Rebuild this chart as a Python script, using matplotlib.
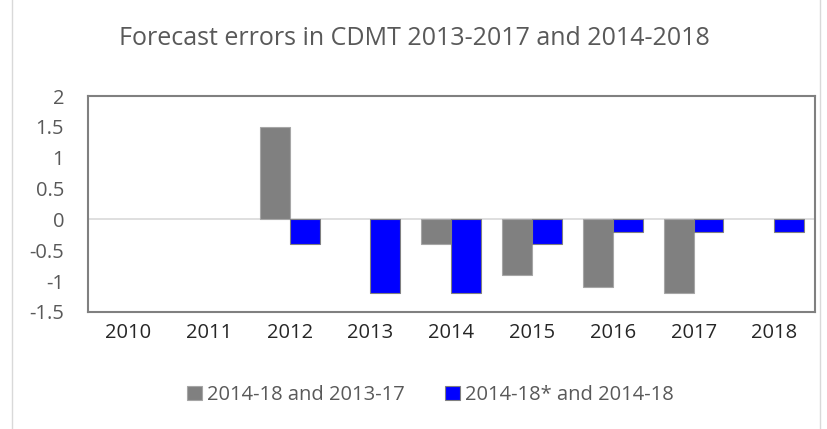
import matplotlib
matplotlib.use('Agg')
import matplotlib.pyplot as plt
import numpy as np

plt.rcParams['font.family'] = ['Open Sans', 'DejaVu Sans']

years = ['2010', '2011', '2012', '2013', '2014', '2015', '2016', '2017', '2018']
# nan = no bar for that year
grey_vals = [np.nan, np.nan, 1.5, np.nan, -0.4, -0.9, -1.1, -1.2, np.nan]
blue_vals = [np.nan, np.nan, -0.4, -1.2, -1.2, -0.4, -0.2, -0.2, -0.2]
yticks = [-1.5, -1, -0.5, 0, 0.5, 1, 1.5, 2]

txt = '#595959'
fig = plt.figure(figsize=(8.28, 4.29), dpi=100)
ax = fig.add_axes([0.106, 0.273, 0.878, 0.503])

x = np.arange(len(years))
w = 0.37
ax.bar(x - w/2, grey_vals, w, color='#808080', edgecolor='#a6a6a6', linewidth=0.8,
       label='2014-18 and 2013-17', zorder=3)
ax.bar(x + w/2, blue_vals, w, color='#0000ff', edgecolor='#808080', linewidth=0.8,
       label='2014-18* and 2014-18', zorder=3)
ax.axhline(0, color='#d9d9d9', linewidth=1.2, zorder=2)

ax.set_xlim(-0.5, len(years) - 0.5)
ax.set_ylim(-1.5, 2)
ax.set_yticks(yticks)
ax.set_yticklabels([f'{v:g}' for v in yticks])
ax.set_xticks(x)
ax.set_xticklabels(years)
ax.tick_params(axis='x', length=0, labelsize=14.5, colors='#262626', pad=8)
ax.tick_params(axis='y', length=0, labelsize=14.5, colors=txt, pad=17)
for s in ax.spines.values():
    s.set_color('#808080')
    s.set_linewidth(1.5)

fig.text(0.5, 0.91, 'Forecast errors in CDMT 2013-2017 and 2014-2018',
         ha='center', va='center', fontsize=18, color=txt)

leg = fig.legend(loc='center', bbox_to_anchor=(0.52, 0.079), ncol=2, frameon=False,
                 fontsize=14.5, handlelength=0.75, handleheight=0.75, handletextpad=0.25,
                 columnspacing=2.0, labelcolor=txt)

fig.patches.append(plt.Rectangle((0.015, -0.01), 0.975, 1.02, transform=fig.transFigure,
                                 fill=False, edgecolor='#d9d9d9', linewidth=1))

plt.savefig('out.png', dpi=100)
